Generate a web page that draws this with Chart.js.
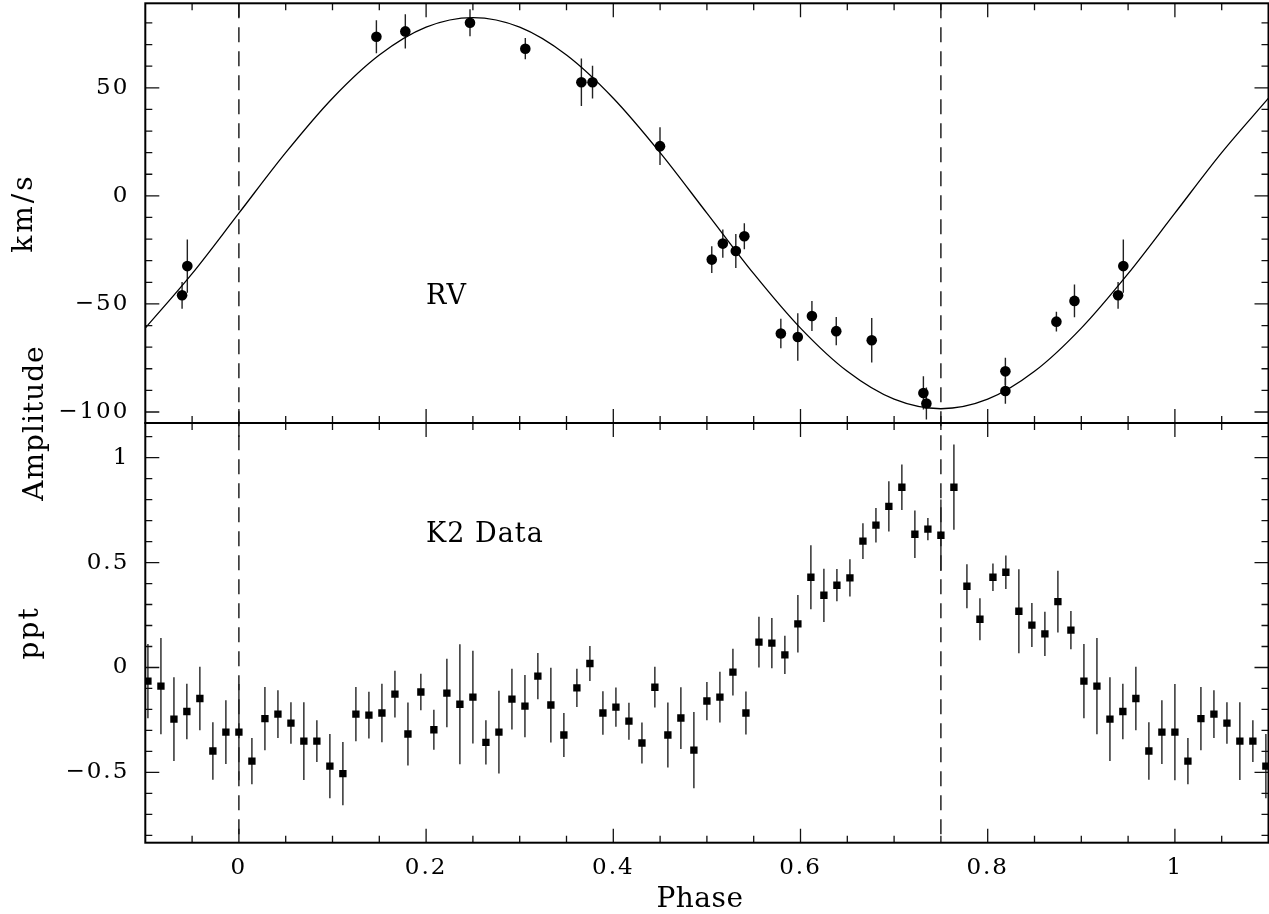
<!DOCTYPE html>
<html>
<head>
<meta charset="utf-8">
<title>RV and K2 phase plot</title>
<script src="https://cdn.jsdelivr.net/npm/chart.js@4.4.0/dist/chart.umd.min.js"></script>
<style>
  html, body { margin: 0; padding: 0; background: #fff; }
  #wrap { position: relative; width: 1269px; height: 914px; }
</style>
</head>
<body>
<div id="wrap"><canvas id="phaseChart"></canvas></div>
<script>
// radial velocity measurements (phase, km/s, 1-sigma)
const rvPhase = [0.1469, 0.1778, 0.2469, 0.3060, 0.3659, 0.3778, 0.4499, 0.5052,
  0.5170, 0.5309, 0.5400, 0.5790, 0.5971, 0.6122, 0.6382, 0.6761, 0.7313, 0.7345,
  0.8189, 0.8189, 0.8734, 0.8927, 0.9393, 0.9449];
const rvVel = [73.6, 76.1, 80.1, 68.1, 52.6, 52.6, 23.0, -29.5,
  -22.1, -25.5, -18.7, -63.7, -65.3, -55.6, -62.6, -66.8, -91.2, -96.1,
  -81.2, -90.3, -58.2, -48.6, -46.0, -32.5];
const rvErr = [7.6, 7.9, 6.2, 4.9, 11.0, 7.6, 8.7, 6.2,
  6.5, 7.9, 6.0, 6.8, 11.0, 6.9, 6.5, 10.3, 7.7, 7.4,
  6.3, 5.9, 4.6, 7.6, 6.2, 12.3];

// orbital fit
const fitPhase = [-0.10, -0.05, 0.00, 0.05, 0.10, 0.15, 0.20, 0.25, 0.30, 0.35, 0.40, 0.45,
  0.50, 0.55, 0.60, 0.65, 0.70, 0.75, 0.80, 0.85, 0.90, 0.95, 1.00, 1.05, 1.10];
const fitVel = [-61.2, -36.0, -8.0, 20.0, 45.2, 65.2, 78.1, 82.5, 78.1, 65.2, 45.2, 20.0,
  -8.0, -36.0, -61.2, -81.2, -94.1, -98.5, -94.1, -81.2, -61.2, -36.0, -8.0, 20.0, 45.2];

// K2 light curve, folded and binned (ppt)
const k2Phase = [0.0000, 0.0139, 0.0278, 0.0417, 0.0556, 0.0694, 0.0833, 0.0972,
  0.1111, 0.1250, 0.1389, 0.1528, 0.1667, 0.1806, 0.1944, 0.2083, 0.2222, 0.2361,
  0.2500, 0.2639, 0.2778, 0.2917, 0.3056, 0.3194, 0.3333, 0.3472, 0.3611, 0.3750,
  0.3889, 0.4028, 0.4167, 0.4306, 0.4444, 0.4583, 0.4722, 0.4861, 0.5000, 0.5139,
  0.5278, 0.5417, 0.5556, 0.5694, 0.5833, 0.5972, 0.6111, 0.6250, 0.6389, 0.6528,
  0.6667, 0.6806, 0.6944, 0.7083, 0.7222, 0.7361, 0.7500, 0.7639, 0.7778, 0.7917,
  0.8056, 0.8194, 0.8333, 0.8472, 0.8611, 0.8750, 0.8889, 0.9028, 0.9167, 0.9306,
  0.9444, 0.9583, 0.9722, 0.9861];
const k2Amp = [-0.308, -0.446, -0.244, -0.222, -0.265, -0.351, -0.351, -0.470,
  -0.506, -0.222, -0.227, -0.217, -0.127, -0.317, -0.117, -0.297, -0.122, -0.175,
  -0.141, -0.357, -0.308, -0.151, -0.184, -0.041, -0.179, -0.322, -0.097, 0.019,
  -0.217, -0.189, -0.256, -0.360, -0.094, -0.322, -0.241, -0.394, -0.160, -0.141,
  -0.022, -0.217, 0.121, 0.116, 0.060, 0.208, 0.430, 0.344, 0.392, 0.427,
  0.602, 0.678, 0.768, 0.859, 0.635, 0.659, 0.630, 0.859, 0.387, 0.230,
  0.430, 0.454, 0.268, 0.202, 0.160, 0.314, 0.178, -0.065, -0.089, -0.246,
  -0.210, -0.148, -0.398, -0.308];
const k2Err = [0.229, 0.110, 0.151, 0.114, 0.099, 0.185, 0.099, 0.153,
  0.151, 0.129, 0.111, 0.139, 0.111, 0.150, 0.087, 0.095, 0.163, 0.286,
  0.221, 0.105, 0.197, 0.145, 0.148, 0.110, 0.178, 0.105, 0.091, 0.083,
  0.104, 0.094, 0.088, 0.098, 0.097, 0.155, 0.147, 0.182, 0.091, 0.121,
  0.111, 0.102, 0.121, 0.120, 0.091, 0.137, 0.152, 0.127, 0.077, 0.089,
  0.085, 0.082, 0.120, 0.108, 0.113, 0.053, 0.170, 0.203, 0.105, 0.100,
  0.065, 0.080, 0.200, 0.105, 0.105, 0.147, 0.091, 0.177, 0.229, 0.200,
  0.132, 0.151, 0.137, 0.152];

// axes
const phaseRange = [-0.1, 1.1];
const rvRange = [-105.1, 89.1];
const k2Range = [-0.835, 1.165];
const xTickLabels = [0, 0.2, 0.4, 0.6, 0.8, 1];
const rvTickLabels = [-100, -50, 0, 50];
const k2TickLabels = [-0.5, 0, 0.5, 1];
const markerPhases = [0, 0.75];

const FONT = "'DejaVu Serif', 'Liberation Serif', serif";

// repeat points one cycle either side so the whole plotted phase range is filled
function wrapPhase(phases, values, errs) {
  const pts = [];
  phases.forEach((p, i) => {
    [p - 1, p, p + 1].forEach((q) => {
      if (q >= phaseRange[0] && q <= phaseRange[1]) {
        pts.push({ x: q, y: values[i], err: errs[i] });
      }
    });
  });
  return pts;
}

function fmt(v) {
  return String(v).replace("-", "\u2212");
}

// inward tick marks every `step`, longer ones every `major`
function tickValues(min, max, step) {
  const out = [];
  const start = Math.ceil(min / step - 1e-9);
  const end = Math.floor(max / step + 1e-9);
  for (let i = start; i <= end; i++) out.push(+(i * step).toFixed(6));
  return out;
}
function isMajor(v, major) {
  const r = v / major;
  return Math.abs(r - Math.round(r)) < 1e-6;
}

const letterSpacing = {
  id: "letterSpacing",
  beforeDraw(chart) {
    chart.ctx.letterSpacing = "2px";
  },
};

const markerLines = {
  id: "markerLines",
  beforeDatasetsDraw(chart) {
    const { ctx, chartArea, scales } = chart;
    ctx.save();
    ctx.strokeStyle = "#000";
    ctx.lineWidth = 1.3;
    ctx.setLineDash([15, 9]);
    markerPhases.forEach((p) => {
      const x = scales.x.getPixelForValue(p);
      ctx.beginPath();
      ctx.moveTo(x, chartArea.top);
      ctx.lineTo(x, chartArea.bottom);
      ctx.stroke();
    });
    ctx.restore();
  },
};

const errorBars = {
  id: "errorBars",
  beforeDatasetsDraw(chart) {
    const ctx = chart.ctx;
    chart.data.datasets.forEach((ds, di) => {
      if (!ds.errorBars) return;
      const meta = chart.getDatasetMeta(di);
      const xs = chart.scales[meta.xAxisID];
      const ys = chart.scales[meta.yAxisID];
      ctx.save();
      ctx.beginPath();
      ctx.rect(xs.left, ys.top, xs.right - xs.left, ys.bottom - ys.top);
      ctx.clip();
      ctx.strokeStyle = "#222";
      ctx.lineWidth = 1.4;
      ds.data.forEach((pt) => {
        const x = xs.getPixelForValue(pt.x);
        ctx.beginPath();
        ctx.moveTo(x, ys.getPixelForValue(pt.y - pt.err));
        ctx.lineTo(x, ys.getPixelForValue(pt.y + pt.err));
        ctx.stroke();
      });
      ctx.restore();
    });
  },
};

const panelFrames = {
  id: "panelFrames",
  afterDatasetsDraw(chart) {
    const ctx = chart.ctx;
    const xs = chart.scales.x;
    const panels = [
      { scale: chart.scales.yRV, step: 10, major: 50 },
      { scale: chart.scales.yK2, step: 0.1, major: 0.5 },
    ];
    const xTicks = tickValues(phaseRange[0], phaseRange[1], 0.05);
    ctx.save();
    ctx.strokeStyle = "#111";
    ctx.lineWidth = 1.3;
    panels.forEach(({ scale, step, major }) => {
      const top = scale.top, bottom = scale.bottom;
      const left = xs.left, right = xs.right;
      ctx.beginPath();
      xTicks.forEach((v) => {
        const x = xs.getPixelForValue(v);
        if (x <= left + 1 || x >= right - 1) return;
        const len = isMajor(v, 0.2) ? 14 : 7;
        ctx.moveTo(x, top);
        ctx.lineTo(x, top + len);
        ctx.moveTo(x, bottom);
        ctx.lineTo(x, bottom - len);
      });
      tickValues(scale.min, scale.max, step).forEach((v) => {
        const y = scale.getPixelForValue(v);
        if (y <= top + 1 || y >= bottom - 1) return;
        const len = isMajor(v, major) ? 14 : 7;
        ctx.moveTo(left, y);
        ctx.lineTo(left + len, y);
        ctx.moveTo(right, y);
        ctx.lineTo(right - len, y);
      });
      ctx.stroke();
    });
    ctx.strokeStyle = "#000";
    ctx.lineWidth = 2;
    panels.forEach(({ scale }) => {
      ctx.strokeRect(xs.left, scale.top, xs.right - xs.left, scale.bottom - scale.top);
    });
    ctx.restore();
  },
};

function drawUpright(ctx, text, x, y, spacing) {
  ctx.save();
  ctx.translate(x, y);
  ctx.rotate(-Math.PI / 2);
  ctx.textAlign = "center";
  ctx.letterSpacing = spacing;
  ctx.fillText(text, 0, 0);
  ctx.restore();
}

const labels = {
  id: "labels",
  afterDraw(chart) {
    const { ctx, scales } = chart;
    const yRV = scales.yRV, yK2 = scales.yK2;
    ctx.save();
    ctx.fillStyle = "#000";
    ctx.textBaseline = "alphabetic";
    ctx.letterSpacing = "1px";
    ctx.font = "27px " + FONT;
    ctx.textAlign = "left";
    ctx.fillText("RV", scales.x.getPixelForValue(0.2), yRV.getPixelForValue(-50));
    ctx.fillText("K2 Data", scales.x.getPixelForValue(0.2), yK2.getPixelForValue(0.6));
    ctx.font = "28px " + FONT;
    ctx.textAlign = "center";
    ctx.letterSpacing = "0.5px";
    ctx.fillText("Phase", 700, 907);
    drawUpright(ctx, "km/s", 32, (yRV.top + yRV.bottom) / 2, "3px");
    drawUpright(ctx, "ppt", 38, (yK2.top + yK2.bottom) / 2, "2px");
    drawUpright(ctx, "Amplitude", 43, yRV.bottom, "1px");
    ctx.restore();
  },
};

const tickFont = { family: FONT, size: 23 };

function yScale(range, tickList, order) {
  return {
    type: "linear",
    position: "left",
    stack: "panels",
    stackWeight: 1,
    weight: order,
    min: range[0],
    max: range[1],
    grid: { display: false, drawTicks: false },
    border: { display: false },
    ticks: {
      font: tickFont,
      color: "#000",
      padding: 16,
      autoSkip: false,
      callback: (v) => fmt(v),
    },
    afterBuildTicks: (scale) => {
      scale.ticks = tickList.map((v) => ({ value: v }));
    },
    afterFit: (scale) => {
      scale.width = 145.3;
      scale.paddingTop = 0;
      scale.paddingBottom = 0;
    },
  };
}

const ctx = document.getElementById("phaseChart").getContext("2d");

new Chart(ctx, {
  type: "scatter",
  data: {
    datasets: [
      {
        label: "Fit",
        type: "line",
        data: fitPhase.map((p, i) => ({ x: p, y: fitVel[i] })),
        yAxisID: "yRV",
        borderColor: "#000",
        borderWidth: 1.3,
        pointRadius: 0,
        fill: false,
        cubicInterpolationMode: "monotone",
      },
      {
        label: "RV",
        data: wrapPhase(rvPhase, rvVel, rvErr),
        yAxisID: "yRV",
        pointStyle: "circle",
        pointRadius: 5.3,
        backgroundColor: "#000",
        borderColor: "#000",
        borderWidth: 0,
        errorBars: true,
      },
      {
        label: "K2 Data",
        data: wrapPhase(k2Phase, k2Amp, k2Err),
        yAxisID: "yK2",
        pointStyle: "rect",
        pointRadius: 5.2,
        backgroundColor: "#000",
        borderColor: "#000",
        borderWidth: 0,
        errorBars: true,
        clip: 0,
      },
    ],
  },
  options: {
    responsive: true,
    maintainAspectRatio: false,
    animation: false,
    layout: {
      autoPadding: false,
      padding: { top: 3.3, right: 0.5, bottom: 0, left: 0 },
    },
    plugins: {
      legend: { display: false },
      tooltip: { enabled: false },
    },
    scales: {
      x: {
        type: "linear",
        position: "bottom",
        min: phaseRange[0],
        max: phaseRange[1],
        grid: { display: false, drawTicks: false },
        border: { display: false },
        ticks: {
          font: tickFont,
          color: "#000",
          padding: 12,
          autoSkip: false,
          maxRotation: 0,
          callback: (v) => fmt(v),
        },
        afterBuildTicks: (scale) => {
          scale.ticks = xTickLabels.map((v) => ({ value: v }));
        },
        afterFit: (scale) => {
          scale.height = 71.3;
          scale.paddingLeft = 0;
          scale.paddingRight = 0;
        },
      },
      yRV: yScale(rvRange, rvTickLabels, 2),
      yK2: yScale(k2Range, k2TickLabels, 1),
    },
  },
  plugins: [letterSpacing, markerLines, errorBars, panelFrames, labels],
});
</script>
</body>
</html>
